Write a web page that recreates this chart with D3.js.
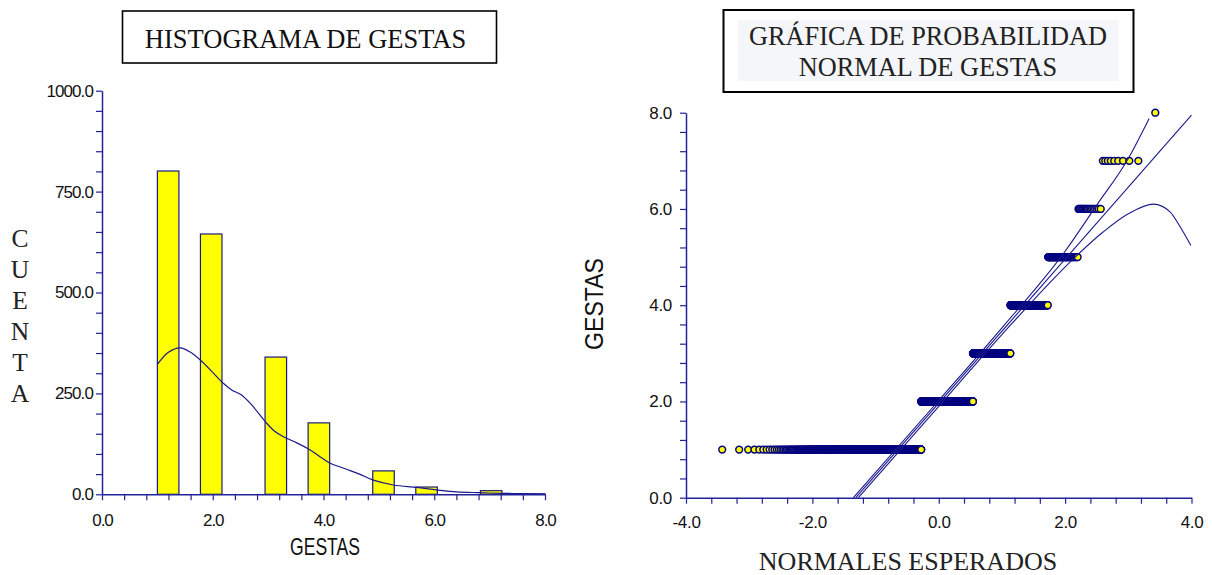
<!DOCTYPE html>
<html>
<head>
<meta charset="utf-8">
<script src="https://cdn.jsdelivr.net/npm/d3@7"></script>
<style>
  body { margin: 0; background: #fff; }
  svg { display: block; }
</style>
</head>
<body>
<div id="chart"></div>
<script>
// GESTAS values and how many times each one occurs
var gestas = [1, 2, 3, 4, 5, 6, 7, 8];
var cuenta = [801, 645, 340, 177, 58, 18, 9, 1];

// density curve drawn over the histogram
var densX = [1.0, 1.2, 1.41, 1.6, 1.79, 2.0, 2.19, 2.35, 2.52, 2.7, 2.95, 3.1, 3.27, 3.51, 3.73, 3.95, 4.12, 4.42, 4.65, 4.9, 5.26, 5.68, 6.04, 6.4, 6.8, 7.23, 7.6, 8.0];
var densY = [322, 352, 363, 352, 331, 302, 275, 258, 246, 222, 180, 158, 143, 128, 112, 92, 77, 62, 50, 35, 23, 17, 11, 6, 4, 2.5, 1.5, 0.5];

// fitted line and the two confidence curves of the probability plot
var lineZ = [-1.313, 4.0];
var lineY = [0, 7.95];
var upperZ = [-1.351, 0, 1.0, 2.0, 2.5, 3.0, 3.33];
var upperY = [0, 2.02, 3.53, 5.12, 6.08, 7.05, 7.88];
var lowerZ = [-1.272, 0, 1.0, 2.16, 2.6, 3.0, 3.4, 3.66, 3.82, 3.99];
var lowerY = [0, 1.90, 3.39, 5.0, 5.52, 5.9, 6.10, 5.94, 5.63, 5.24];

var width = 1212, height = 575;
var axisColor = "#22229a";
var navy = "#000080";

var svg = d3.select("#chart").append("svg")
  .attr("width", width)
  .attr("height", height);

// raw observations rebuilt from the counts
var raw = [];
gestas.forEach(function(g, i) {
  for (var k = 0; k < cuenta[i]; k++) raw.push(g);
});

// ---------- left: histogram ----------
var xL = d3.scaleLinear().domain([0, 8]).range([102, 545]);
var yL = d3.scaleLinear().domain([0, 1000]).range([494.3, 90.7]);

var bins = d3.bin()
  .domain([1, 8])
  .thresholds(d3.range(1, 8 - 1e-9, 7 / 18))(raw);

svg.append("g").selectAll("rect")
  .data(bins.filter(function(b) { return b.length > 0; }))
  .enter().append("rect")
  .attr("x", function(d) { return xL(d.x0); })
  .attr("y", function(d) { return yL(d.length); })
  .attr("width", function(d) { return xL(d.x1) - xL(d.x0); })
  .attr("height", function(d) { return yL(0) - yL(d.length); })
  .attr("fill", "#ffff00")
  .attr("stroke", "#1a1a80")
  .attr("stroke-width", 1.2);

var dens = densX.map(function(x, i) { return [x, densY[i]]; });
svg.append("path")
  .datum(dens)
  .attr("fill", "none")
  .attr("stroke", "#1a1a8c")
  .attr("stroke-width", 1.2)
  .attr("d", d3.line()
    .x(function(d) { return xL(d[0]); })
    .y(function(d) { return yL(d[1]); })
    .curve(d3.curveCatmullRom));

function styleAxis(g) {
  g.select(".domain").attr("stroke", axisColor).attr("stroke-width", 1.5);
  g.selectAll(".tick line").attr("stroke", axisColor).attr("stroke-width", 1.2);
  g.selectAll(".tick text").attr("fill", "#111");
}

var gxL = svg.append("g")
  .attr("transform", "translate(0," + yL(0) + ")")
  .call(d3.axisBottom(xL)
    .tickValues(d3.range(0, 8.001, 0.4))
    .tickSize(6).tickSizeOuter(0)
    .tickFormat(function(d, i) { return i % 5 === 0 ? d.toFixed(1) : ""; }));
styleAxis(gxL);
gxL.selectAll(".tick text")
  .attr("y", 31.5).attr("dy", 0)
  .style("font", "17px 'Liberation Sans', Arial, sans-serif")
  .style("letter-spacing", "-1px");

var gyL = svg.append("g")
  .attr("transform", "translate(" + xL(0) + ",0)")
  .call(d3.axisLeft(yL)
    .tickValues(d3.range(0, 1001, 50))
    .tickSize(6).tickSizeOuter(0).tickPadding(3)
    .tickFormat(function(d, i) { return i % 5 === 0 ? d.toFixed(1) : ""; }));
styleAxis(gyL);
gyL.selectAll(".tick text")
  .style("font", "17px 'Liberation Sans', Arial, sans-serif")
  .style("letter-spacing", "-0.9px");

svg.append("text")
  .attr("x", 325).attr("y", 555)
  .attr("text-anchor", "middle")
  .attr("textLength", 70).attr("lengthAdjust", "spacingAndGlyphs")
  .style("font", "24px 'Liberation Sans', Arial, sans-serif")
  .attr("fill", "#111")
  .text("GESTAS");

// vertical CUENTA label, one letter per line
"CUENTA".split("").forEach(function(ch, i) {
  svg.append("text")
    .attr("x", 20).attr("y", 247 + i * 30.9)
    .attr("text-anchor", "middle")
    .style("font", "25.5px 'Liberation Serif', 'Times New Roman', serif")
    .attr("fill", "#222")
    .text(ch);
});

svg.append("rect")
  .attr("x", 122.5).attr("y", 11).attr("width", 374).attr("height", 52)
  .attr("fill", "none").attr("stroke", "#000").attr("stroke-width", 1.6);
svg.append("text")
  .attr("x", 305.5).attr("y", 47.5)
  .attr("text-anchor", "middle")
  .style("font", "26.5px 'Liberation Serif', 'Times New Roman', serif")
  .attr("fill", "#111")
  .text("HISTOGRAMA DE GESTAS");

// ---------- right: normal probability plot ----------
var xR = d3.scaleLinear().domain([-4, 4]).range([686, 1191.5]);
var yR = d3.scaleLinear().domain([0, 8]).range([497.7, 112.7]);

// inverse normal CDF (Acklam)
function qnorm(p) {
  var a = [-39.69683028665376, 220.9460984245205, -275.9285104469687, 138.3577518672690, -30.66479806614716, 2.506628277459239];
  var b = [-54.47609879822406, 161.5858368580409, -155.6989798598866, 66.80131188771972, -13.28068155288572];
  var c = [-0.007784894002430293, -0.3223964580411365, -2.400758277161838, -2.549732539343734, 4.374664141464968, 2.938163982698783];
  var dd = [0.007784695709041462, 0.3224671290700398, 2.445134137142996, 3.754408661907416];
  var q, r;
  if (p < 0.02425) {
    q = Math.sqrt(-2 * Math.log(p));
    return (((((c[0]*q+c[1])*q+c[2])*q+c[3])*q+c[4])*q+c[5]) / ((((dd[0]*q+dd[1])*q+dd[2])*q+dd[3])*q+1);
  } else if (p > 1 - 0.02425) {
    q = Math.sqrt(-2 * Math.log(1 - p));
    return -(((((c[0]*q+c[1])*q+c[2])*q+c[3])*q+c[4])*q+c[5]) / ((((dd[0]*q+dd[1])*q+dd[2])*q+dd[3])*q+1);
  }
  q = p - 0.5; r = q * q;
  return (((((a[0]*r+a[1])*r+a[2])*r+a[3])*r+a[4])*r+a[5])*q / (((((b[0]*r+b[1])*r+b[2])*r+b[3])*r+b[4])*r+1);
}

// expected normal scores (Blom)
var n = raw.length;
var scores = raw.map(function(v, i) {
  return { z: qnorm((i + 1 - 0.375) / (n + 0.25)), v: v };
});

var gxR = svg.append("g")
  .attr("transform", "translate(0," + yR(0) + ")")
  .call(d3.axisBottom(xR)
    .tickValues(d3.range(0, 21).map(function(k) { return -4 + k * 0.4; }))
    .tickSize(6).tickSizeOuter(0)
    .tickFormat(function(d, i) { return i % 5 === 0 ? d.toFixed(1) : ""; }));
styleAxis(gxR);
gxR.selectAll(".tick text")
  .attr("y", 30.5).attr("dy", 0)
  .style("font", "17px 'Liberation Sans', Arial, sans-serif")
  .style("letter-spacing", "-0.3px");

var gyR = svg.append("g")
  .attr("transform", "translate(" + xR(-4) + ",0)")
  .call(d3.axisLeft(yR)
    .tickValues(d3.range(0, 21).map(function(k) { return k * 0.4; }))
    .tickSize(6).tickSizeOuter(0).tickPadding(8)
    .tickFormat(function(d, i) { return i % 5 === 0 ? d.toFixed(1) : ""; }));
styleAxis(gyR);
gyR.selectAll(".tick text")
  .style("font", "17px 'Liberation Sans', Arial, sans-serif")
  .style("letter-spacing", "-0.3px");

svg.append("g").selectAll("circle")
  .data(scores)
  .enter().append("circle")
  .attr("cx", function(d) { return xR(d.z); })
  .attr("cy", function(d) { return yR(d.v); })
  .attr("r", 3.4)
  .attr("fill", "#ffff00")
  .attr("stroke", navy)
  .attr("stroke-width", 1.5);

var lineR = d3.line()
  .x(function(d) { return xR(d[0]); })
  .y(function(d) { return yR(d[1]); })
  .curve(d3.curveMonotoneX);

[[lineZ, lineY], [upperZ, upperY], [lowerZ, lowerY]].forEach(function(s) {
  svg.append("path")
    .datum(s[0].map(function(z, i) { return [z, s[1][i]]; }))
    .attr("fill", "none")
    .attr("stroke", "#1a1a8c")
    .attr("stroke-width", 1.1)
    .attr("d", lineR);
});

svg.append("text")
  .attr("transform", "translate(603,304) rotate(-90)")
  .attr("text-anchor", "middle")
  .attr("textLength", 92).attr("lengthAdjust", "spacingAndGlyphs")
  .style("font", "26px 'Liberation Sans', Arial, sans-serif")
  .attr("fill", "#111")
  .text("GESTAS");

svg.append("text")
  .attr("x", 908).attr("y", 570)
  .attr("text-anchor", "middle")
  .style("font", "26px 'Liberation Serif', 'Times New Roman', serif")
  .attr("fill", "#222")
  .text("NORMALES ESPERADOS");

svg.append("rect")
  .attr("x", 723.5).attr("y", 10).attr("width", 410).attr("height", 82)
  .attr("fill", "none").attr("stroke", "#000").attr("stroke-width", 2);
svg.append("rect")
  .attr("x", 738).attr("y", 20).attr("width", 381).attr("height", 61)
  .attr("fill", "#f5f6f9");
svg.append("text")
  .attr("x", 928).attr("y", 45)
  .attr("text-anchor", "middle")
  .style("font", "26.3px 'Liberation Serif', 'Times New Roman', serif")
  .attr("fill", "#222")
  .text("GRÁFICA DE PROBABILIDAD");
svg.append("text")
  .attr("x", 928).attr("y", 76)
  .attr("text-anchor", "middle")
  .style("font", "26.3px 'Liberation Serif', 'Times New Roman', serif")
  .attr("fill", "#222")
  .text("NORMAL DE GESTAS");
</script>
</body>
</html>
